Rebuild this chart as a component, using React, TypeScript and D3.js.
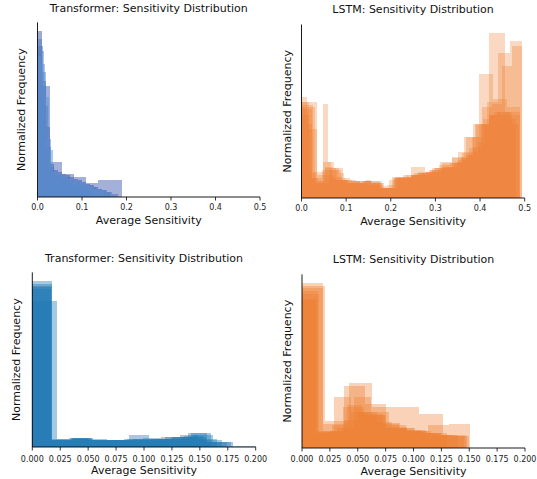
import React from 'react';
import * as d3 from 'd3';

const FONT = "'DejaVu Sans', sans-serif";

// ---------- Panel 1: Transformer (top) ----------
const tf1Max = [0.19, 0.162, 0.18, 0.15, 0.12, 0.17];
const tf1Colors = ['#4763b5', '#3f56a6', '#4c72b0', '#5a86c8', '#4f7cc0', '#5b93d3'];
const tf1A = [67, 21, 14, 12, 8.6, 10, 10];
const tf1B = [100, 70, 42, 20, 16, 15, 14, 13, 12, 11, 10, 9, 8, 7, 6, 5, 4, 3];
const tf1C = [91, 55, 18, 13, 13, 12, 10, 9, 8, 7, 6, 5, 4, 3, 2];
const tf1D = [88, 35, 15, 12, 10, 9, 8, 6, 5, 4];
const tf1E = [95, 75, 30, 16, 13, 11, 10, 8, 7, 6, 5, 4];
const tf1F = [85, 80, 60, 28, 15, 14, 13, 12, 11, 10, 9, 9, 8, 7, 6, 5, 5, 4, 3, 2];
const tf1Heights = [tf1A, tf1B, tf1C, tf1D, tf1E, tf1F];

// ---------- Panel 2: LSTM (top) ----------
const ls1Max = [0.49, 0.493, 0.49, 0.48, 0.495, 0.488, 0.49];
const ls1A = [58, 14, 11, 9, 10, 6, 13, 14, 16, 21, 28, 45, 100, 52];
const ls1B = [56, 16, 18, 11, 10, 10, 9, 6, 12, 14, 15, 17, 22, 25, 37, 45, 58, 88, 95];
const ls1C = [58, 42, 10, 19, 17, 11, 9, 9, 10, 9, 6, 8, 12, 13, 14, 15, 16, 18, 19, 21, 23, 26, 31, 45, 50, 52, 52, 50];
const ls1D = [61, 45, 12, 10, 57, 22, 18, 15, 12, 10, 10, 9, 11, 9, 8, 7, 6, 12, 13, 14, 13, 15, 16, 14, 17, 18, 18, 20, 19, 22, 24, 26, 28, 34, 44, 50, 52, 50, 52, 48];
const ls1E = [54, 12, 17, 13, 11, 9, 10, 10, 6, 13, 12, 14, 15, 17, 19, 21, 27, 37, 55, 57, 80, 92];
const ls1F = [50, 15, 9, 22, 17, 12, 9, 10, 9, 8, 9, 6, 11, 12, 13, 14, 15, 16, 18, 20, 19, 22, 25, 30, 44, 48, 50, 52, 50, 45];
const ls1G = [55, 9, 18, 11, 10, 9, 6, 12, 19, 16, 18, 24, 37, 75, 60, 55];
const ls1Heights = [ls1A, ls1B, ls1C, ls1D, ls1E, ls1F, ls1G];

// ---------- Panel 3: Transformer (bottom) ----------
const tf2Max = [0.174, 0.2, 0.18, 0.165, 0.17, 0.16];
const tf2A = [100, 4, 5.6, 4, 4, 7.2, 5, 5, 8.6, 3];
const tf2B = [88, 5, 5, 4, 4, 5, 6, 3, 0.8];
const tf2C = [98, 4.2, 5.2, 4, 4.5, 5, 5, 6, 7, 3];
const tf2D = [96, 5, 5.2, 4.2, 4, 5, 5.5, 6, 7.5, 5];
const tf2E = [95, 4, 5, 4.5, 4, 5, 5, 6, 6.5, 4];
const tf2F = [97, 4.5, 5.6, 4.2, 4, 4.4, 5, 6, 8.6];
const tf2Heights = [tf2A, tf2B, tf2C, tf2D, tf2E, tf2F];

// ---------- Panel 4: LSTM (bottom) ----------
const ls2Max = [0.151, 0.1475, 0.145, 0.14, 0.15, 0.13, 0.148];
const ls2A = [100, 14.5, 37.7, 26.6, 12, 10, 14, 14.5];
const ls2B = [98, 16.3, 39.5, 25, 25, 20.6, 8];
const ls2C = [95, 10, 31, 22, 20.6, 14.5, 12, 10, 8, 7];
const ls2D = [93, 9.9, 12, 31, 22, 14, 10, 9, 7.9];
const ls2E = [89.5, 9, 10, 17, 22, 20, 15, 12, 10, 9, 8, 7];
const ls2F = [97, 10, 25, 20, 12, 11, 9];
const ls2G = [90, 9.5, 14, 26, 22, 16, 13, 11, 9, 8, 7.5];
const ls2Heights = [ls2A, ls2B, ls2C, ls2D, ls2E, ls2F, ls2G];

const ticksWide = [0, 0.1, 0.2, 0.3, 0.4, 0.5];
const ticksNarrow = [0, 0.025, 0.05, 0.075, 0.1, 0.125, 0.15, 0.175, 0.2];

const TITLE_TF = 'Transformer: Sensitivity Distribution';
const TITLE_LS = 'LSTM: Sensitivity Distribution';
const XLABEL = 'Average Sensitivity';
const YLABEL = 'Normalized Frequency';

type PanelProps = {
  title: string;
  heights: number[][];
  maxes: number[];
  colors: string[];
  alpha: number;
  xmax: number;
  ticks: number[];
  fmt: string;
  x0: number;
  x1: number;
  bottom: number;
  top: number;
  titleY: number;
  xlabelY: number;
  ylabelX: number;
  tickY: number;
};

function Panel(p: PanelProps) {
  const x = d3.scaleLinear().domain([0, p.xmax]).range([p.x0, p.x1]);
  const y = d3.scaleLinear().domain([0, 105]).range([p.bottom, p.top]);
  const f = d3.format(p.fmt);
  const cx = (p.x0 + p.x1) / 2;
  const cy = (p.bottom + p.top) / 2;
  return (
    <g>
      {p.heights.map((hs, i) => {
        const w = p.maxes[i] / hs.length;
        return (
          <g key={i} fill={p.colors[i % p.colors.length]} fillOpacity={p.alpha} shapeRendering="crispEdges">
            {hs.map((h, j) => (
              <rect
                key={j}
                x={x(j * w)}
                y={y(h)}
                width={x((j + 1) * w) - x(j * w)}
                height={y(0) - y(h)}
              />
            ))}
          </g>
        );
      })}
      <line x1={p.x0} x2={p.x0} y1={p.bottom} y2={p.top} stroke="#000" strokeWidth={0.9} />
      <line x1={p.x0} x2={p.x1} y1={p.bottom} y2={p.bottom} stroke="#000" strokeWidth={0.9} />
      {p.ticks.map((t, i) => (
        <g key={i}>
          <line x1={x(t)} x2={x(t)} y1={p.bottom} y2={p.bottom + 3.5} stroke="#000" strokeWidth={0.8} />
          <text x={x(t)} y={p.tickY} textAnchor="middle" fontSize={8} fontFamily={FONT} fill="#222">
            {f(t)}
          </text>
        </g>
      ))}
      <text x={cx} y={p.titleY} textAnchor="middle" fontSize={11} fontFamily={FONT} fill="#111">
        {p.title}
      </text>
      <text x={cx} y={p.xlabelY} textAnchor="middle" fontSize={11} fontFamily={FONT} fill="#111">
        {XLABEL}
      </text>
      <text
        transform={`translate(${p.ylabelX},${cy}) rotate(-90)`}
        textAnchor="middle"
        fontSize={11}
        fontFamily={FONT}
        fill="#111"
      >
        {YLABEL}
      </text>
    </g>
  );
}

export default function App() {
  const orange = ['#ed7d31'];
  const blue = ['#1f77b4'];
  return (
    <svg
      width={537}
      height={479}
      style={{ position: 'absolute', left: 0, top: 0, background: '#fff' }}
    >
      <rect width={537} height={479} fill="#fff" />
      <Panel
        title={TITLE_TF}
        heights={tf1Heights}
        maxes={tf1Max}
        colors={tf1Colors}
        alpha={0.5}
        xmax={0.5}
        ticks={ticksWide}
        fmt=".1f"
        x0={37.5}
        x1={260}
        bottom={197}
        top={22.4}
        titleY={12}
        xlabelY={224}
        ylabelX={24.5}
        tickY={209.5}
      />
      <Panel
        title={TITLE_LS}
        heights={ls1Heights}
        maxes={ls1Max}
        colors={orange}
        alpha={0.3}
        xmax={0.5}
        ticks={ticksWide}
        fmt=".1f"
        x0={301.5}
        x1={524.7}
        bottom={198}
        top={24.5}
        titleY={12.5}
        xlabelY={224.5}
        ylabelX={290.5}
        tickY={210.5}
      />
      <Panel
        title={TITLE_TF}
        heights={tf2Heights}
        maxes={tf2Max}
        colors={blue}
        alpha={0.4}
        xmax={0.2}
        ticks={ticksNarrow}
        fmt=".3f"
        x0={32.3}
        x1={255.7}
        bottom={447}
        top={272.4}
        titleY={262}
        xlabelY={474}
        ylabelX={20}
        tickY={462}
      />
      <Panel
        title={TITLE_LS}
        heights={ls2Heights}
        maxes={ls2Max}
        colors={orange}
        alpha={0.35}
        xmax={0.2}
        ticks={ticksNarrow}
        fmt=".3f"
        x0={302}
        x1={525}
        bottom={448}
        top={274.4}
        titleY={263}
        xlabelY={474.5}
        ylabelX={290.5}
        tickY={462}
      />
    </svg>
  );
}
